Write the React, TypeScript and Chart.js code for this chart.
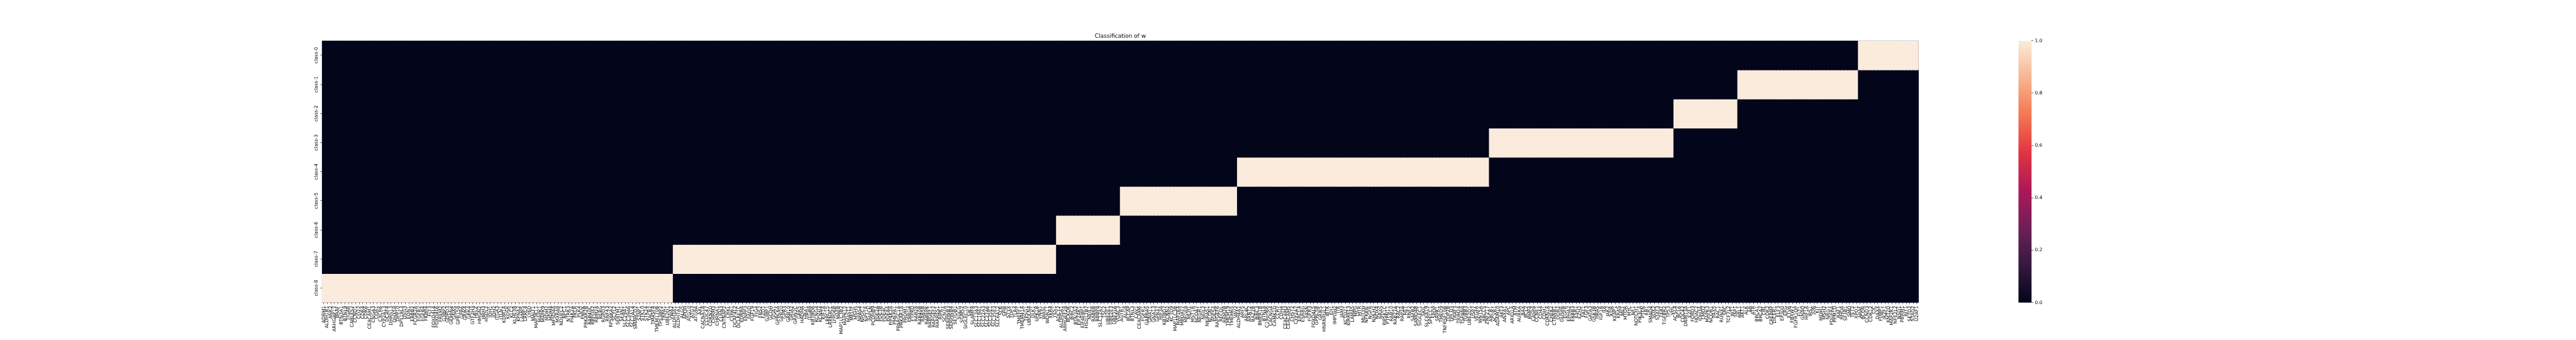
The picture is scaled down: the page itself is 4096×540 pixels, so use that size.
import React, { useEffect, useRef } from "react";
import { Chart, registerables } from "chart.js";

Chart.register(...registerables);

// ---------------- data ----------------
const TITLE = "Classification of w";

const classLabels = [
  "class-0", "class-1", "class-2", "class-3", "class-4",
  "class-5", "class-6", "class-7", "class-8",
];

// genes (columns) grouped by the class whose row is lit (value 1)
const genesClass8 = [
  "ADRM1", "ALDH1B1", "ANK2", "ARHGAP17", "BRAF", "BTN3A1", "BTNL9", "TIGAR", "CABLES2", "CCND1",
  "CD22", "CDK4", "CDK6", "CEACAM1", "CNGA3", "COA1", "CXCR6", "CYP2A13", "DCAF4", "DHRS13",
  "DHX58", "DPP10", "DPY19L3", "DSG3", "EDN1", "ERBB2", "FCGR2A", "FGFR2", "FGFR4", "FKBP4",
  "FLT3", "FOXD4L4", "FOXD4L6", "FREM2", "G3BP2", "GDPD3", "GEMIN4", "GNAS", "GPR158", "GPR6",
  "GRIK4", "GRK4", "GTF2H3", "HELZ", "HMGN2", "HRH3", "HSDL2", "IDH1", "IDH2", "ITGA3",
  "ITLN1", "KDM1A", "KDSR", "KLC2", "KLHL38", "KPNA2", "LAMP5", "LRRC4", "LY6D", "MALT1",
  "MAP3K11", "MAPK1", "MAPK9", "MDM2", "MDM4", "MFSD4A", "MXRA8", "NDUFC2", "NPC1", "NTRK3",
  "PI4K2A", "PKLR", "PLK4", "PMVK", "PRKAR2B", "RAB40C", "RBFOX2", "RBM24", "RERG", "RGPD3",
  "RNF43", "RPS6KA2", "SCYL2", "SERTM1", "SFXN1", "SLC29A1", "SLC39A6", "SLC7A14", "SMARCD2", "STAP1",
  "STK10", "STK24", "TACR2", "TM4SF4", "TMEM170B", "TP53BP2", "TRPA1", "UBE2Q1", "VWA2",
];

const genesClass7 = [
  "ALDH3A1", "ALDH7A1", "ALG5", "APOH", "ATG10", "ATG3", "ATG9A", "AXL", "CACNA1A", "CCDC47",
  "CDKN2D", "CHRM3", "CHRNA1", "CLRN3", "CNTNAP2", "CRKL", "CYR61", "DCAF4L2", "DCLRE1C", "EDNRA",
  "ENPP3", "FADD", "FGF19", "FIG4", "FRS2", "FZD1", "G3BP1", "GCDH", "GGA1", "GPRC6A",
  "GPR20", "GPR3", "GRB10", "GRIA2", "GRIN2C", "GRK5", "HADHA", "HBA1", "ITGB8", "KBTBD6",
  "KCNG4", "KCNN4", "KIF1A", "LRRC15", "LRRN4CL", "LYPD6B", "MAFB", "MAP1LC3B2", "MAPK12", "MAST1",
  "MELTF", "MSH5", "NPAS4", "NPDC1", "NPY1R", "PAPLN", "PCDHB9", "PDE2A", "PDE3B", "PDE4C",
  "PDE8A", "PIP4K2A", "PMEPA1", "PPARGC1A", "PRKAR1A", "PROM1", "PRRG4", "PTPRD", "RAB28", "RAB40B",
  "RAB5B", "RABEPK", "RABGEF1", "RAPGEF2", "RARRES1", "RIPK1", "SCN7A", "SERPINB3", "SERPINB4", "SETDB1",
  "SGCG", "SGMS2", "SIGLEC10", "SIK1", "SLAMF8", "SLC13A3", "SLC19A1", "SLC22A3", "SLC27A6", "SLC35E1",
  "SLC35E3", "SLC6A12", "SLN", "SPIB", "STYX", "TDP1", "TLR4", "TMEFF1", "TMEM41A", "TPSG1",
  "UBQLN4", "ULK1", "UPK1B", "VNN1", "WASL", "WDR11", "XKR4", "YES1",
];

const genesClass6 = [
  "ADCY2", "ALDH5A1", "ARHGEF28", "BCKDK", "BIRC2", "BTN3A2", "EIF2AK1", "EIF4EBP1", "HSD17B7",
  "NEIL1", "RAB6B", "RBBP8", "SLC12A7", "TSC2", "UBE2E1", "UBE2E3", "UBE2L6", "VDAC3",
];

const genesClass5 = [
  "AGTR1", "ALG8", "BLCAP", "BTNL3", "CAV1", "CEACAM6", "FGFR1", "GABRA5", "GNA11", "GNA13",
  "GPR37", "HIF3A", "KBTBD7", "KCNN2", "KCTD9", "MAP1LC3B", "MAP2K4", "MBOAT7", "MFGE8", "MLH1",
  "MST1R", "NCOA7", "NEGR1", "NEIL2", "NKIRAS1", "NLGN1", "PDE5A", "RAPGEF6", "RECQL", "RRM2B",
  "TMEM19", "TMEM65", "VAV2",
];

const genesClass4 = [
  "ALDH4A1", "ARF5", "ARL4C", "ARNT2", "BAZ2B", "BIRC3", "BMPR1B", "BTNL8", "C19orf66", "CACNG4",
  "CAMK1D", "CCR7", "CDH4", "CEACAM3", "CEACAM5", "CHST2", "CYP2A7", "ERCC4", "ESRRG", "FASN",
  "FGFR3", "FOXD4L5", "GPRC5B", "GRIK5", "HNRNPUL1", "IBTK", "IDI1", "IMPDH2", "ITK", "JAM3",
  "KCTD21", "KIRREL3", "LAMA5", "MPG", "MTR", "MUTYH", "NFKBIE", "NGFR", "NHLH2", "NOX4",
  "NRAS", "PIP5K1C", "PTPN11", "RAB10", "RAB27A", "RAC2", "RAP2A", "RET", "RNF2", "SAFB2",
  "SAMD4B", "SIGLEC1", "SKIL", "SLC6A19", "SPECC1", "SPOP", "SRPK1", "TMED9", "TNFRSF10B", "TOP2B",
  "TP53I3", "TRAF3", "TRIM24", "TSPAN8", "TUBB3", "UBE2D1", "USP7", "VEGFA", "WNT5A", "XRCC5",
  "ZNF217",
];

const genesClass3 = [
  "ABCB1", "ACVR1", "ADAM10", "AKT3", "ANXA1", "APC", "ARID1A", "ATM", "AURKA", "BAX",
  "BCL2", "BMP4", "CASP8", "CCNE1", "CD44", "CDH1", "CDKN1A", "CHEK2", "CTNNB1", "DDR2",
  "DUSP6", "EGFR", "EPHA2", "ERBB3", "ESR1", "EZH2", "FAT1", "FGF3", "GATA3", "GSK3B",
  "HRAS", "IGF1R", "IL6", "JAK2", "KDR", "KEAP1", "KRAS", "MET", "MTOR", "MYC",
  "NF1", "NOTCH1", "PIK3CA", "PTEN", "RB1", "SMAD4", "SOX2", "STAT3", "TERT", "TGFBR2",
  "TP53", "VHL",
];

const genesClass2 = [
  "ACSL4", "BCL6", "CDC42", "DNMT3A", "E2F1", "FOXO3", "HDAC2", "IDH3A", "LMO2",
  "MAPK3", "NCOR1", "PAX5", "RAC1", "RUNX1", "SRC", "TCF7L2", "WT1", "YAP1",
];

const genesClass1 = [
  "ABL1", "AKT1", "ALK", "AR", "ATR", "BRCA1", "BRCA2", "CBL", "CDK2", "CREBBP",
  "DICER1", "ELF3", "EP300", "ERG", "ETV6", "FBXW7", "FGFR1OP", "FLT1", "GNAQ", "HIF1A",
  "IRS1", "JUN", "KIT", "MDM1", "MSH2", "NRG1", "PDGFRA", "PPM1D", "RAF1", "RHOA",
  "SF3B1", "SMO", "TET2", "XPO1",
];

const genesClass0 = [
  "ARAF", "BCOR", "CCND3", "CDK12", "CIC", "DAXX", "FUBP1", "IKZF1", "KMT2D",
  "MAP2K1", "NFE2L2", "NSD1", "PBRM1", "RIT1", "SETD2", "STAG2", "U2AF1",
];

// column order: class-8 block first, class-0 block last
const columnBlocks = [
  { cls: 8, genes: genesClass8 },
  { cls: 7, genes: genesClass7 },
  { cls: 6, genes: genesClass6 },
  { cls: 5, genes: genesClass5 },
  { cls: 4, genes: genesClass4 },
  { cls: 3, genes: genesClass3 },
  { cls: 2, genes: genesClass2 },
  { cls: 1, genes: genesClass1 },
  { cls: 0, genes: genesClass0 },
];

const colorbarTicks = [0, 0.2, 0.4, 0.6, 0.8, 1.0];

// seaborn "rocket" colormap stops
const rocketStops: [number, string][] = [
  [0.0, "#03051a"],
  [0.143, "#35193e"],
  [0.286, "#701f57"],
  [0.429, "#ad1759"],
  [0.571, "#e13342"],
  [0.714, "#f37651"],
  [0.857, "#f6b48f"],
  [1.0, "#faebdd"],
];

// ---------------- derived ----------------
const xLabels = columnBlocks.flatMap((b) => b.genes);
const colClass = columnBlocks.flatMap((b) => b.genes.map(() => b.cls));
const matrix = classLabels.map((_, r) => colClass.map((c) => (c === r ? 1 : 0)));

function hexToRgb(h: string) {
  const n = parseInt(h.slice(1), 16);
  return [(n >> 16) & 255, (n >> 8) & 255, n & 255];
}
function rocket(v: number) {
  for (let i = 1; i < rocketStops.length; i++) {
    const [p1, c1] = rocketStops[i];
    const [p0, c0] = rocketStops[i - 1];
    if (v <= p1) {
      const t = (v - p0) / (p1 - p0);
      const a = hexToRgb(c0);
      const b = hexToRgb(c1);
      const m = a.map((x, k) => Math.round(x + (b[k] - x) * t));
      return `rgb(${m[0]},${m[1]},${m[2]})`;
    }
  }
  return rocketStops[rocketStops.length - 1][1];
}

// ---------------- layout (0.54 of reference) ----------------
const S = 0.54;
const W = 4096;
const H = 540;
const AX_LEFT = 948 * S;
const AX_RIGHT = 5649.6 * S;
const AX_TOP = 120 * S;
const AX_BOTTOM = 890 * S;
const CB_LEFT = 5943.5 * S;
const CB_RIGHT = 5982 * S;
const FONT = "DejaVu Sans";
const TICK_FS = 13.9 * S;
const TITLE_FS = 16.7 * S;
const TICK_LEN = 4.86 * S;
const TICK_PAD = 4.86 * S;

const yLabelPlugin = {
  id: "yLabels",
  afterDraw(chart: any) {
    const { ctx, chartArea } = chart;
    const y = chart.scales.y;
    ctx.save();
    ctx.font = `${TICK_FS}px "${FONT}"`;
    ctx.fillStyle = "#000";
    ctx.textAlign = "center";
    ctx.textBaseline = "alphabetic";
    classLabels.forEach((lab, i) => {
      const py = y.getPixelForValue(i + 0.5);
      ctx.save();
      ctx.translate(chartArea.left - TICK_LEN - TICK_PAD - 0.236 * TICK_FS, py);
      ctx.rotate(-Math.PI / 2);
      ctx.fillText(lab, 0, 0);
      ctx.restore();
    });
    ctx.restore();
  },
};

// fills the heatmap area with the value-0 colour so sub-pixel seams between cells vanish
const heatBackgroundPlugin = {
  id: "heatBg",
  beforeDatasetsDraw(chart: any) {
    const { ctx, chartArea } = chart;
    ctx.save();
    ctx.fillStyle = rocket(0);
    ctx.fillRect(
      chartArea.left,
      chartArea.top,
      chartArea.right - chartArea.left,
      chartArea.bottom - chartArea.top
    );
    ctx.restore();
  },
};

const gradientPlugin = {
  id: "cbGradient",
  beforeDatasetsDraw(chart: any) {
    const { ctx, chartArea } = chart;
    const y = chart.scales.y;
    const y0 = y.getPixelForValue(0);
    const y1 = y.getPixelForValue(1);
    const g = ctx.createLinearGradient(0, y0, 0, y1);
    rocketStops.forEach(([p, c]) => g.addColorStop(p, c));
    ctx.save();
    ctx.fillStyle = g;
    ctx.fillRect(chartArea.left, y1, chartArea.right - chartArea.left, y0 - y1);
    ctx.restore();
  },
};

const CB_CANVAS_LEFT = 3200;
const CB_CANVAS_W = 100;

export default function App() {
  const mainRef = useRef<HTMLCanvasElement>(null);
  const cbRef = useRef<HTMLCanvasElement>(null);

  useEffect(() => {
    const datasets = classLabels.map((lab, r) => ({
      label: lab,
      data: xLabels.map(() => [r, r + 1]),
      backgroundColor: matrix[r].map((v) => rocket(v)),
      borderWidth: 0,
      barPercentage: 1,
      categoryPercentage: 1,
      grouped: false,
      inflateAmount: 0.6,
    }));

    const main = new Chart(mainRef.current as HTMLCanvasElement, {
      type: "bar",
      data: { labels: xLabels, datasets: datasets as any },
      plugins: [heatBackgroundPlugin, yLabelPlugin],
      options: {
        responsive: false,
        maintainAspectRatio: false,
        animation: false,
        devicePixelRatio: 1,
        layout: { padding: { left: 0, right: W - AX_RIGHT, top: 0, bottom: 0 } },
        plugins: {
          legend: { display: false },
          tooltip: { enabled: false },
          title: {
            display: true,
            text: TITLE,
            color: "#000",
            fullSize: false,
            font: { family: FONT, size: TITLE_FS, weight: "normal" as any, lineHeight: 1.2 },
            padding: { top: AX_TOP - TITLE_FS * 1.2 - 1.8, bottom: 1.8 },
          },
        },
        scales: {
          x: {
            type: "category",
            offset: true,
            grid: {
              display: true,
              offset: false,
              drawOnChartArea: false,
              drawTicks: true,
              tickLength: TICK_LEN,
              tickColor: "#000",
              tickWidth: 0.6,
            },
            border: { display: false },
            ticks: {
              autoSkip: false,
              minRotation: 90,
              maxRotation: 90,
              padding: TICK_PAD,
              color: "#000",
              font: { family: FONT, size: TICK_FS },
            },
            afterFit: (s: any) => {
              s.height = H - AX_BOTTOM;
            },
          },
          y: {
            type: "linear",
            min: 0,
            max: 9,
            reverse: true,
            afterBuildTicks: (s: any) => {
              s.ticks = classLabels.map((_, i) => ({ value: i + 0.5 }));
            },
            grid: {
              display: true,
              drawOnChartArea: false,
              drawTicks: true,
              tickLength: TICK_LEN,
              tickColor: "#000",
              tickWidth: 0.6,
            },
            border: { display: false },
            ticks: { display: false },
            afterFit: (s: any) => {
              s.width = AX_LEFT;
            },
          },
        },
      } as any,
    });

    const cb = new Chart(cbRef.current as HTMLCanvasElement, {
      type: "scatter",
      data: { datasets: [] },
      plugins: [gradientPlugin],
      options: {
        responsive: false,
        maintainAspectRatio: false,
        animation: false,
        devicePixelRatio: 1,
        layout: {
          padding: {
            left: CB_LEFT - CB_CANVAS_LEFT,
            right: 0,
            top: AX_TOP,
            bottom: H - AX_BOTTOM,
          },
        },
        plugins: { legend: { display: false }, tooltip: { enabled: false } },
        scales: {
          x: { display: false },
          y: {
            position: "right",
            min: 0,
            max: 1,
            afterBuildTicks: (s: any) => {
              s.ticks = colorbarTicks.map((v) => ({ value: v }));
            },
            ticks: {
              color: "#000",
              padding: TICK_PAD,
              font: { family: FONT, size: TICK_FS },
              callback: (v: any) => Number(v).toFixed(1),
            },
            grid: {
              display: true,
              drawOnChartArea: false,
              drawTicks: true,
              tickLength: TICK_LEN,
              tickColor: "#000",
              tickWidth: 0.6,
            },
            border: { display: false },
            afterFit: (s: any) => {
              s.width = CB_CANVAS_W - (CB_RIGHT - CB_CANVAS_LEFT);
            },
          },
        },
      } as any,
    });

    return () => {
      main.destroy();
      cb.destroy();
    };
  }, []);

  return (
    <div
      style={{
        position: "fixed",
        left: 0,
        top: 0,
        width: W,
        height: H,
        background: "#fff",
        overflow: "hidden",
      }}
    >
      <canvas
        ref={mainRef}
        width={W}
        height={H}
        style={{ position: "absolute", left: 0, top: 0, width: W, height: H }}
      />
      <canvas
        ref={cbRef}
        width={CB_CANVAS_W}
        height={H}
        style={{
          position: "absolute",
          left: CB_CANVAS_LEFT,
          top: 0,
          width: CB_CANVAS_W,
          height: H,
        }}
      />
    </div>
  );
}
